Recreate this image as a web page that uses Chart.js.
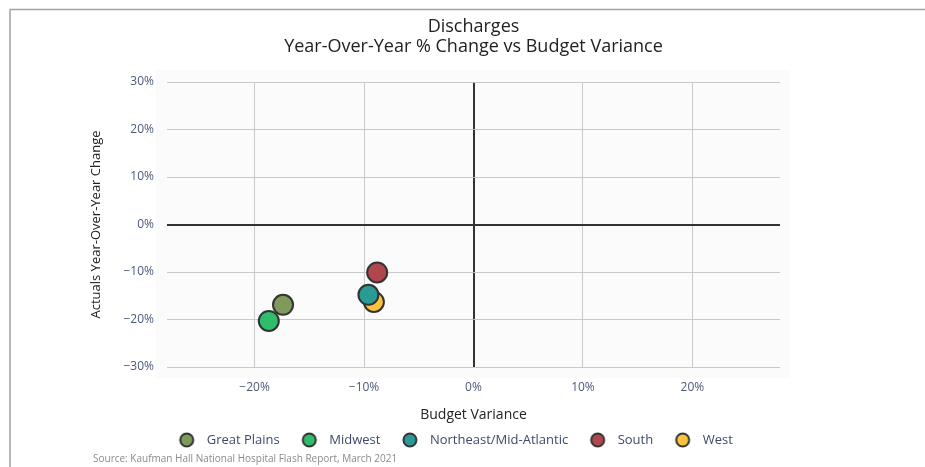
<!DOCTYPE html>
<html>
<head>
<meta charset="utf-8">
<script src="https://cdn.jsdelivr.net/npm/chart.js@4"></script>
<style>
html,body{margin:0;padding:0;background:#fff;}
#wrap{width:925px;height:467px;position:relative;}
</style>
</head>
<body>
<div id="wrap"><canvas id="c" width="925" height="467"></canvas></div>
<script>
const regions = ["Great Plains", "Midwest", "Northeast/Mid-Atlantic", "South", "West"];
const budgetVariance = [-17.4, -18.7, -9.6, -8.8, -9.1];
const yoyChange = [-16.9, -20.3, -14.8, -10.1, -16.3];
const colors = ["#7f9a5a", "#2ebd6b", "#2a9a96", "#b0474f", "#fcc33f"];
const xTickValues = [-20, -10, 0, 10, 20];
const yTickValues = [-30, -20, -10, 0, 10, 20, 30];
const titleLines = ["Discharges", "Year-Over-Year % Change vs Budget Variance"];
const sourceText = "Source: Kaufman Hall National Hospital Flash Report, March 2021";

const FONT = "'Open Sans', 'Noto Sans', sans-serif";

function legendDot(color) {
  const c = document.createElement('canvas');
  c.width = 18; c.height = 18;
  const g = c.getContext('2d');
  g.beginPath();
  g.arc(9, 9, 6.5, 0, Math.PI * 2);
  g.fillStyle = color;
  g.fill();
  g.lineWidth = 2;
  g.strokeStyle = '#333333';
  g.stroke();
  return c;
}

const datasets = regions.map((r, i) => ({
  label: r,
  data: [{x: budgetVariance[i], y: yoyChange[i]}],
  backgroundColor: colors[i],
  borderColor: "#333333",
  borderWidth: 2,
  pointRadius: 10,
  pointHoverRadius: 10,
  pointStyle: 'circle'
}));

const decor = {
  id: 'decor',
  afterLayout(chart) {
    const a = chart.chartArea;
    if (chart.titleBlock) {
      chart.titleBlock.left = a.left;
      chart.titleBlock.right = a.right;
    }
    const lg = chart.legend;
    if (lg) {
      const w = lg.right - lg.left;
      lg.left = 453 - w / 2;
      lg.right = lg.left + w;
      const h = lg.bottom - lg.top;
      lg.top = 440 - 16 - 6.5;
      lg.bottom = lg.top + h;
    }
  },
  beforeDraw(chart) {
    const ctx = chart.ctx, a = chart.chartArea;
    ctx.save();
    ctx.fillStyle = '#fbfbfb';
    ctx.fillRect(a.left - 11, a.top - 12, a.right - a.left + 21, a.bottom - a.top + 23);
    ctx.strokeStyle = '#a3a39b';
    ctx.lineWidth = 1.5;
    ctx.beginPath();
    ctx.moveTo(10, chart.height);
    ctx.lineTo(10, 9.5);
    ctx.lineTo(chart.width, 9.5);
    ctx.stroke();
    ctx.restore();
  },
  afterDraw(chart) {
    const ctx = chart.ctx;
    ctx.save();
    ctx.fillStyle = '#8a8a8a';
    ctx.font = "10px " + FONT;
    ctx.textBaseline = 'middle';
    ctx.fillText(sourceText, 93, 459);
    ctx.restore();
  }
};

new Chart(document.getElementById('c'), {
  type: 'scatter',
  data: { datasets },
  plugins: [decor],
  options: {
    responsive: false,
    animation: false,
    layout: { padding: { left: 80, right: 145, top: 0, bottom: 0 } },
    plugins: {
      title: {
        display: true,
        text: titleLines,
        color: '#222222',
        font: { family: FONT, size: 18, weight: 'normal', lineHeight: 1.1 },
        padding: { top: 17, bottom: 25.4 }
      },
      legend: {
        position: 'bottom',
        labels: {
          usePointStyle: true,
          pointStyleWidth: 27,
          boxHeight: 13,
          padding: 16,
          color: '#3b4a6b',
          font: { family: FONT, size: 13 },
          generateLabels(chart) {
            const items = Chart.defaults.plugins.legend.labels.generateLabels(chart);
            items.forEach((it, i) => { it.pointStyle = legendDot(colors[i]); });
            return items;
          }
        }
      },
      tooltip: { enabled: false }
    },
    scales: {
      x: {
        type: 'linear',
        min: -28, max: 28,
        afterBuildTicks(scale) { scale.ticks = xTickValues.map(v => ({value: v})); },
        afterFit(scale) { scale.height = 61; },
        ticks: {
          color: '#4a5878',
          font: { family: FONT, size: 12 },
          padding: 13,
          callback: v => (v < 0 ? '\u2212' + Math.abs(v) : v) + '%'
        },
        grid: {
          color: ctx => ctx.tick && ctx.tick.value === 0 ? '#333333' : '#c9c9c9',
          lineWidth: ctx => ctx.tick && ctx.tick.value === 0 ? 2 : 1,
          drawTicks: false
        },
        border: { display: false },
        title: {
          display: true,
          text: 'Budget Variance',
          color: '#222222',
          font: { family: FONT, size: 14 },
          padding: { top: 0, bottom: 5 }
        }
      },
      y: {
        type: 'linear',
        min: -30, max: 30,
        afterBuildTicks(scale) { scale.ticks = yTickValues.map(v => ({value: v})); },
        afterFit(scale) { scale.width = 87; },
        ticks: {
          color: '#4a5878',
          font: { family: FONT, size: 12 },
          padding: 13,
          callback: v => (v < 0 ? '\u2212' + Math.abs(v) : v) + '%'
        },
        grid: {
          color: ctx => ctx.tick && ctx.tick.value === 0 ? '#333333' : '#c9c9c9',
          lineWidth: ctx => ctx.tick && ctx.tick.value === 0 ? 2 : 1,
          drawTicks: false
        },
        border: { display: false },
        title: {
          display: true,
          text: 'Actuals Year-Over-Year Change',
          color: '#222222',
          font: { family: FONT, size: 13 },
          padding: { top: 8, bottom: 0 }
        }
      }
    }
  }
});
</script>
</body>
</html>
